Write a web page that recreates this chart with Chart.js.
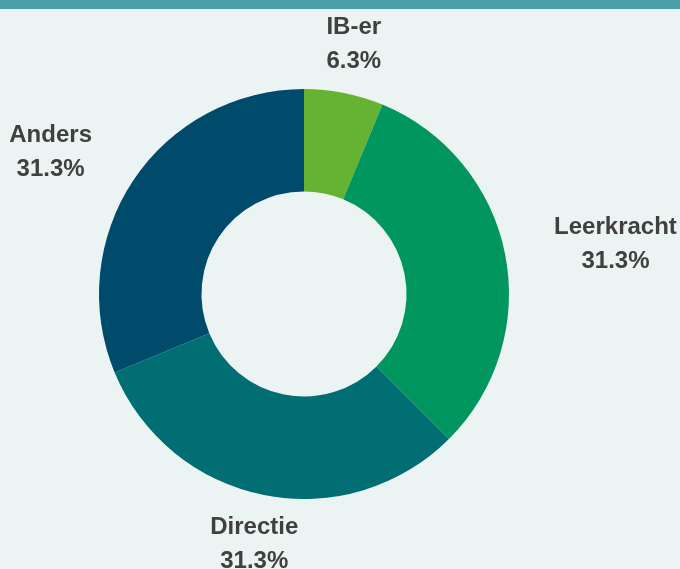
<!DOCTYPE html>
<html>
<head>
<meta charset="utf-8">
<script src="https://cdn.jsdelivr.net/npm/chart.js@4/dist/chart.umd.min.js"></script>
<style>
    html, body { margin: 0; padding: 0; background: #ecf4f3; }
    .topbar { position: absolute; left: 0; top: 0; width: 680px; height: 9px; background: #4a9fa8; }
    .wrap { position: absolute; left: 0; top: 0; width: 680px; height: 569px; }
</style>
</head>
<body>
<div class="wrap"><canvas id="roleChart" width="680" height="569"></canvas></div>
<div class="topbar"></div>
<script>
const labels = ['IB-er', 'Leerkracht', 'Directie', 'Anders'];
const counts = [1, 5, 5, 5];
const colors = ['#66b232', '#00965e', '#006e72', '#004a6b'];

const total = counts.reduce((a, b) => a + b, 0);

// labels buiten de ring: naam + percentage
const outerLabels = {
    id: 'outerLabels',
    afterDraw(chart) {
        const ctx = chart.ctx;
        const meta = chart.getDatasetMeta(0);
        ctx.save();
        ctx.font = 'bold 24px "Liberation Sans", Arial, sans-serif';
        ctx.fillStyle = '#404040';
        ctx.textBaseline = 'middle';
        ctx.textAlign = 'center';
        meta.data.forEach((arc, i) => {
            const mid = (arc.startAngle + arc.endAngle) / 2;
            const r = arc.outerRadius + 50;
            let x = arc.x + Math.cos(mid) * r;
            const y = arc.y + Math.sin(mid) * r;
            const pct = (counts[i] / total * 100).toFixed(1) + '%';
            const w = Math.max(ctx.measureText(labels[i]).width, ctx.measureText(pct).width);
            const c = Math.cos(mid);
            if (c > 0.5) x += w / 2;
            else if (c < -0.5) x -= w / 2;
            ctx.fillText(labels[i], x, y - 17);
            ctx.fillText(pct, x, y + 17);
        });
        ctx.restore();
    }
};

const ctx = document.getElementById('roleChart').getContext('2d');
new Chart(ctx, {
    type: 'doughnut',
    data: {
        labels: labels,
        datasets: [{
            data: counts,
            backgroundColor: colors,
            borderWidth: 0
        }]
    },
    options: {
        responsive: false,
        animation: false,
        cutout: '50%',
        layout: { padding: { left: 99, right: 171, top: 89, bottom: 70 } },
        plugins: {
            legend: { display: false },
            tooltip: { enabled: false }
        }
    },
    plugins: [outerLabels]
});
</script>
</body>
</html>
